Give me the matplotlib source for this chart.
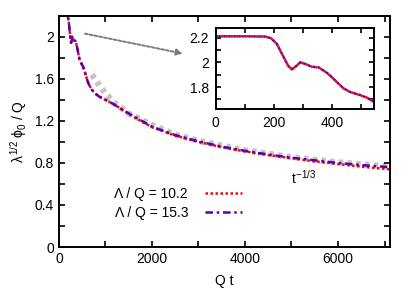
import matplotlib
matplotlib.use("Agg")
import matplotlib.pyplot as plt
from matplotlib.ticker import MultipleLocator, FormatStrFormatter

plt.rcParams['font.family'] = ['Liberation Sans', 'DejaVu Sans']
plt.rcParams['mathtext.fontset'] = 'custom'
plt.rcParams['mathtext.rm'] = 'Liberation Sans'
plt.rcParams['mathtext.it'] = 'Liberation Sans'

# Q t
qt = [0, 100, 170, 190, 210, 232, 250, 262, 275, 291, 310, 330, 355, 383, 400,
      417, 440, 463, 497, 520, 545, 580, 630, 700, 780, 870, 1000, 1170, 1350,
      1600, 2000, 2500, 3000, 3500, 4000, 4500, 5000, 5500, 6000, 6500, 7100]
# lambda^1/2 phi_0 / Q, Lambda/Q = 10.2
phi_102 = [2.21, 2.21, 2.208, 2.195, 2.15, 2.05, 1.97, 1.943, 1.965, 2.0, 1.985,
           1.965, 1.958, 1.915, 1.88, 1.84, 1.79, 1.76, 1.735, 1.715, 1.68, 1.63,
           1.56, 1.50, 1.46, 1.43, 1.40, 1.36, 1.31, 1.24, 1.14, 1.06, 1.00, 0.95,
           0.91, 0.875, 0.845, 0.815, 0.79, 0.765, 0.74]
# Lambda/Q = 15.3
phi_153 = [2.21, 2.21, 2.208, 2.195, 2.15, 2.05, 1.97, 1.943, 1.965, 2.0, 1.985,
           1.965, 1.958, 1.915, 1.88, 1.84, 1.79, 1.76, 1.735, 1.715, 1.68, 1.63,
           1.56, 1.50, 1.46, 1.43, 1.40, 1.36, 1.31, 1.245, 1.145, 1.065, 1.005, 0.955,
           0.915, 0.88, 0.85, 0.825, 0.80, 0.78, 0.76]
# t^-1/3 guide
guide_t = [710, 800, 900, 1000, 1200, 1500, 2000, 2500, 3000, 4000, 5000, 6000, 7100]
guide_v = [1.64, 1.58, 1.52, 1.46, 1.37, 1.27, 1.16, 1.07, 1.01, 0.92, 0.855, 0.805, 0.765]

labels = ['Λ / Q = 10.2', 'Λ / Q = 15.3']
red = '#ff0000'
purple = '#5a00a8'

fig = plt.figure(figsize=(4.15, 2.91), dpi=100)
ax = fig.add_axes([0.142, 0.151, 0.798, 0.795])

ax.plot(guide_t, guide_v, color='#c4c4c4', lw=4.5, ls=(0, (0.7, 0.7)), zorder=1)
ax.plot(qt, phi_102, color=red, lw=1.8, ls=(0, (1, 1)), label=labels[0], zorder=2)
ax.plot(qt, phi_153, color=purple, lw=1.8, ls=(0, (3, 1.5, 1, 1.5)), label=labels[1], zorder=3)

ax.annotate('', xy=(2720, 1.835), xytext=(500, 2.035),
            arrowprops=dict(arrowstyle='-|>', color='#7a7a7a', lw=1.4, ls=(0, (1.5, 1)),
                            mutation_scale=9))
ax.text(5000, 0.66, '$t^{-1/3}$', fontsize=10, ha='left', va='center')

ax.set_xlim(0, 7120)
ax.set_ylim(0, 2.2)
ax.xaxis.set_major_locator(MultipleLocator(2000))
ax.xaxis.set_minor_locator(MultipleLocator(1000))
ax.yaxis.set_major_locator(MultipleLocator(0.4))
ax.yaxis.set_minor_locator(MultipleLocator(0.2))
ax.yaxis.set_major_formatter(FormatStrFormatter('%g'))
ax.tick_params(which='both', direction='in', top=True, right=True, length=4, width=1.2,
               labelsize=10)
for s in ax.spines.values():
    s.set_linewidth(1.4)
ax.set_xlabel('Q t', fontsize=10, labelpad=6)
ax.set_ylabel('$\\lambda^{1/2}\\ \\phi_0$ / Q', fontsize=10, labelpad=4)

leg = ax.legend(loc='lower left', bbox_to_anchor=(0.13, 0.065), frameon=False,
                markerfirst=False, fontsize=10, handlelength=2.7, labelspacing=0.35,
                handletextpad=1.2)

# inset
ins = fig.add_axes([0.520, 0.6265, 0.381, 0.2785])
ins.plot(qt, phi_102, color=red, lw=1.8, ls=(0, (1, 1)))
ins.plot(qt, phi_153, color=purple, lw=1.8, ls=(1, (1, 1)))
ins.set_xlim(0, 545)
ins.set_ylim(1.625, 2.28)
ins.xaxis.set_major_locator(MultipleLocator(200))
ins.xaxis.set_minor_locator(MultipleLocator(100))
ins.yaxis.set_major_locator(MultipleLocator(0.2))
ins.yaxis.set_minor_locator(MultipleLocator(0.1))
ins.yaxis.set_major_formatter(FormatStrFormatter('%g'))
ins.tick_params(which='both', direction='in', top=True, right=True, length=3.5, width=1.2,
                labelsize=10, pad=5)
for s in ins.spines.values():
    s.set_linewidth(1.4)

fig.savefig('out.png', dpi=100)
